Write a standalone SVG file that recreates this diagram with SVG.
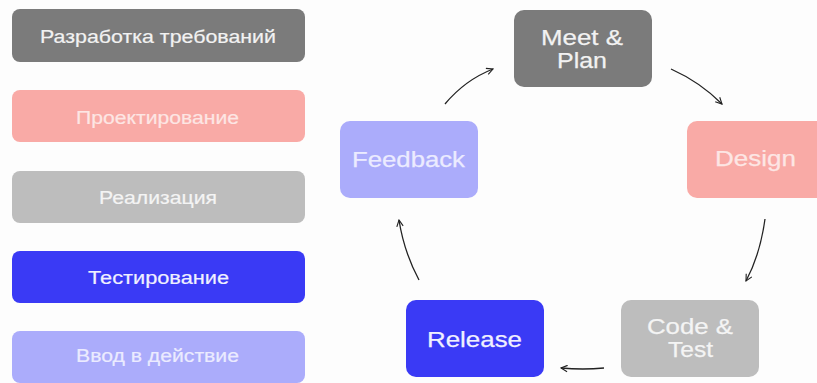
<svg xmlns="http://www.w3.org/2000/svg" width="817" height="383" viewBox="0 0 817 383">
<defs>
<style>
.bg{fill:#fdfdfd}
.lt{font-family:"Liberation Sans",Arial,sans-serif;font-size:17.5px;text-anchor:middle;stroke-width:0.2}
.rt{font-family:"Liberation Sans",Arial,sans-serif;font-size:22px;text-anchor:middle;stroke-width:0.25}
.c1{fill:#7b7b7b}.t1{fill:#f2f2f2;stroke:#f2f2f2}
.c2{fill:#f9aaa6}.t2{fill:#fde6e4;stroke:#fde6e4}
.c3{fill:#bdbdbd}.t3{fill:#f4f4f4;stroke:#f4f4f4}
.c4{fill:#3a3af5}.t4{fill:#f0f0ff;stroke:#f0f0ff}
.c5{fill:#abacfb}.t5{fill:#ebebff;stroke:#ebebff}
.conn path{fill:none;stroke:#222;stroke-width:1.3;marker-end:url(#ah)}
</style>
<marker id="ah" viewBox="0 0 10 10" refX="9" refY="5" markerWidth="8" markerHeight="8" markerUnits="userSpaceOnUse" orient="auto">
<path d="M1,1 L9,5 L1,9" fill="none" stroke="#222" stroke-width="1.4"/>
</marker>
</defs>
<rect class="bg" x="0" y="0" width="817" height="383"/>
<g id="legend-1"><rect class="c1" x="12" y="9" width="293" height="53" rx="8"/><text class="lt t1" x="158" y="43" textLength="236" lengthAdjust="spacingAndGlyphs">Разработка требований</text></g>
<g id="legend-2"><rect class="c2" x="12" y="90" width="293" height="52" rx="8"/><text class="lt t2" x="157.5" y="124" textLength="163" lengthAdjust="spacingAndGlyphs">Проектирование</text></g>
<g id="legend-3"><rect class="c3" x="12" y="171" width="293" height="52" rx="8"/><text class="lt t3" x="158" y="204" textLength="118" lengthAdjust="spacingAndGlyphs">Реализация</text></g>
<g id="legend-4"><rect class="c4" x="12" y="251" width="293" height="52" rx="8"/><text class="lt t4" x="158.5" y="284" textLength="141" lengthAdjust="spacingAndGlyphs">Тестирование</text></g>
<g id="legend-5"><rect class="c5" x="12" y="331" width="293" height="52" rx="8"/><text class="lt t5" x="157.5" y="362" textLength="163" lengthAdjust="spacingAndGlyphs">Ввод в действие</text></g>
<g id="meet-plan"><rect class="c1" x="514" y="10" width="138" height="77" rx="10"/><text class="rt t1" x="582" y="45" textLength="82" lengthAdjust="spacingAndGlyphs">Meet &amp;</text><text class="rt t1" x="582" y="68" textLength="50" lengthAdjust="spacingAndGlyphs">Plan</text></g>
<g id="design"><rect class="c2" x="687" y="121" width="140" height="77" rx="10"/><text class="rt t2" x="755.5" y="166" textLength="81" lengthAdjust="spacingAndGlyphs">Design</text></g>
<g id="code-test"><rect class="c3" x="621" y="300" width="138" height="77" rx="10"/><text class="rt t3" x="690" y="334" textLength="86" lengthAdjust="spacingAndGlyphs">Code &amp;</text><text class="rt t3" x="690.5" y="357" textLength="45" lengthAdjust="spacingAndGlyphs">Test</text></g>
<g id="release"><rect class="c4" x="406" y="300" width="138" height="77" rx="10"/><text class="rt t4" x="474.5" y="347" textLength="95" lengthAdjust="spacingAndGlyphs">Release</text></g>
<g id="feedback"><rect class="c5" x="340" y="121" width="138" height="77" rx="10"/><text class="rt t5" x="408.5" y="167" textLength="113" lengthAdjust="spacingAndGlyphs">Feedback</text></g>
<g id="connectors" class="conn">
<path d="M445,104 Q465,80 493,69"/>
<path d="M671,69 Q700,82 722,104"/>
<path d="M765,219 Q760,255 746,281"/>
<path d="M604,368 Q583,370 561,368"/>
<path d="M419,280 Q404,252 399,220"/>
</g>
</svg>
